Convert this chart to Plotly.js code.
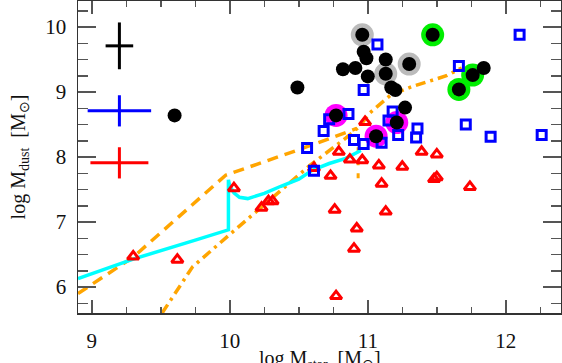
<!DOCTYPE html>
<html>
<head>
<meta charset="utf-8">
<script src="https://cdn.plot.ly/plotly-3.0.1.min.js"></script>
<style>
  html, body { margin: 0; padding: 0; background: white; }
  #chart { width: 562px; height: 363px; }
</style>
</head>
<body>
<div id="chart"></div>
<script>
// black filled circles
var blackX = [10.96, 11.47, 10.97, 10.99, 11.13, 11.30, 10.82, 10.91, 11.13, 11.00, 10.49, 11.17, 11.20, 11.84, 11.76, 11.66, 11.27, 10.77, 11.21, 11.06, 9.60];
var blackY = [9.88, 9.88, 9.62, 9.52, 9.50, 9.43, 9.35, 9.37, 9.28, 9.24, 9.07, 9.07, 9.03, 9.37, 9.26, 9.04, 8.76, 8.64, 8.53, 8.32, 8.64];

// rings behind some of the black points
var grayRingX = [10.96, 11.30, 11.13];
var grayRingY = [9.88, 9.43, 9.28];
var greenRingX = [11.47, 11.76, 11.66];
var greenRingY = [9.88, 9.26, 9.04];
var magentaRingX = [10.77, 11.21, 11.06];
var magentaRingY = [8.64, 8.53, 8.32];

// blue open squares
var squareX = [12.10, 11.07, 11.66, 10.97, 10.86, 10.72, 10.68, 11.18, 11.15, 11.71, 11.36, 11.22, 11.35, 10.90, 10.97, 11.10, 11.89, 12.26, 10.56, 10.61];
var squareY = [9.88, 9.73, 9.40, 9.03, 8.66, 8.58, 8.40, 8.70, 8.56, 8.50, 8.44, 8.34, 8.30, 8.26, 8.20, 8.22, 8.31, 8.34, 8.14, 7.79];

// red open triangles
var triX = [10.98, 10.79, 10.87, 10.96, 11.08, 11.25, 11.39, 11.50, 10.73, 11.10, 11.48, 11.50, 10.61, 11.74, 10.76, 11.13, 10.92, 10.90, 10.77, 10.03, 10.23, 10.28, 10.31, 9.30, 9.62];
var triY = [8.54, 8.08, 7.96, 7.95, 7.87, 7.85, 8.08, 8.04, 7.71, 7.59, 7.66, 7.69, 7.83, 7.54, 7.19, 7.16, 6.90, 6.59, 5.86, 7.52, 7.22, 7.32, 7.32, 6.47, 6.42];

// model tracks
var cyanX = [8.9, 9.3, 9.75, 9.99, 9.99, 10.0, 10.03, 10.07, 10.13, 10.25, 10.37, 10.5, 10.6, 10.72, 10.84, 10.95];
var cyanY = [6.13, 6.43, 6.72, 6.88, 7.65, 7.55, 7.45, 7.38, 7.36, 7.44, 7.55, 7.66, 7.8, 7.9, 7.98, 8.1];
var dashX = [8.9, 9.3, 9.97, 10.22, 10.51, 10.82, 10.92];
var dashY = [5.9, 6.46, 7.72, 7.90, 8.12, 8.36, 8.44];
var dropX = [10.93, 10.93];
var dropY = [8.15, 7.58];
var dashDotX = [9.51, 9.73, 9.99, 10.15, 10.36, 10.58, 10.84, 10.94, 11.01, 11.17, 11.33, 11.57, 11.68];
var dashDotY = [5.6, 6.31, 6.79, 7.08, 7.47, 7.87, 8.29, 8.47, 8.67, 8.96, 9.09, 9.25, 9.37];

// typical error bars (upper left)
var crossX = [9.2, 9.2, 9.2];
var crossY = [9.71, 8.71, 7.91];
var crossErrX = [0.1, 0.23, 0.21];
var crossErrY = [0.36, 0.24, 0.24];
var crossColors = ['black', '#0000ff', '#ff0000'];

var orange = '#ffa500';
var serif = 'Liberation Serif, serif';
var traces = [];

traces.push({x: dashX, y: dashY, mode: 'lines', line: {color: orange, width: 3.5, dash: '11px,7px'}});
traces.push({x: dropX, y: dropY, mode: 'lines', line: {color: orange, width: 3, dash: '5px,8px'}});
traces.push({x: dashDotX, y: dashDotY, mode: 'lines', line: {color: orange, width: 3.5, dash: '10px,5px,3px,5px'}});
traces.push({x: cyanX, y: cyanY, mode: 'lines', line: {color: '#00ffff', width: 3.5}});

for (var i = 0; i < crossX.length; i++) {
    traces.push({
        x: [crossX[i]], y: [crossY[i]], mode: 'markers',
        marker: {size: 1, color: crossColors[i]},
        error_x: {type: 'constant', value: crossErrX[i], color: crossColors[i], thickness: 3, width: 0},
        error_y: {type: 'constant', value: crossErrY[i], color: crossColors[i], thickness: 3, width: 0}
    });
}

traces.push({x: triX, y: triY, mode: 'markers',
    marker: {symbol: 'triangle-up-open', size: 10, color: '#ff0000', line: {width: 3}}});
traces.push({x: grayRingX, y: grayRingY, mode: 'markers', marker: {size: 23, color: '#bbbbbb'}});
traces.push({x: greenRingX, y: greenRingY, mode: 'markers', marker: {size: 23, color: '#00ee00'}});
traces.push({x: magentaRingX, y: magentaRingY, mode: 'markers', marker: {size: 23, color: '#ff00ff'}});
traces.push({x: squareX, y: squareY, mode: 'markers',
    marker: {symbol: 'square-open', size: 9, color: '#0000ff', line: {width: 3}}});
traces.push({x: blackX, y: blackY, mode: 'markers', marker: {size: 14, color: 'black'}});

var axisCommon = {
    showgrid: false, zeroline: false,
    showline: true, linecolor: '#333', linewidth: 1.5, mirror: 'allticks',
    ticks: 'inside', tickcolor: '#555', tickwidth: 1.5,
    tickfont: {family: serif, size: 21, color: '#111'}
};

var layout = {
    width: 562, height: 363,
    margin: {l: 78, r: 1, t: 1, b: 50},
    paper_bgcolor: 'white', plot_bgcolor: 'white',
    showlegend: false,
    xaxis: Object.assign({}, axisCommon, {
        range: [8.9, 12.4], dtick: 1, tick0: 9, ticklen: 13,
        ticklabelstandoff: 8,
        minor: {dtick: 0.25, ticks: 'inside', ticklen: 6, tickcolor: '#555', tickwidth: 1.5}
    }),
    yaxis: Object.assign({}, axisCommon, {
        range: [5.6, 10.4], dtick: 1, tick0: 6, ticklen: 18,
        ticklabelstandoff: 6,
        minor: {dtick: 0.25, ticks: 'inside', ticklen: 10, tickcolor: '#555', tickwidth: 1.5},
        title: {text: 'log M<sub>dust</sub>  [M<sub>⊙</sub>]', standoff: 14,
            font: {family: serif, size: 20, color: '#111'}}
    }),
    // x title sits low, partly cut by the bottom edge as in the reference
    annotations: [{
        text: 'log M<sub>star</sub>  [M<sub>⊙</sub>]',
        xref: 'paper', yref: 'paper', x: 0.5, y: -0.148,
        xanchor: 'center', yanchor: 'middle', showarrow: false,
        font: {family: serif, size: 20, color: '#111'}
    }]
};

Plotly.newPlot('chart', traces, layout, {staticPlot: true});
</script>
</body>
</html>
